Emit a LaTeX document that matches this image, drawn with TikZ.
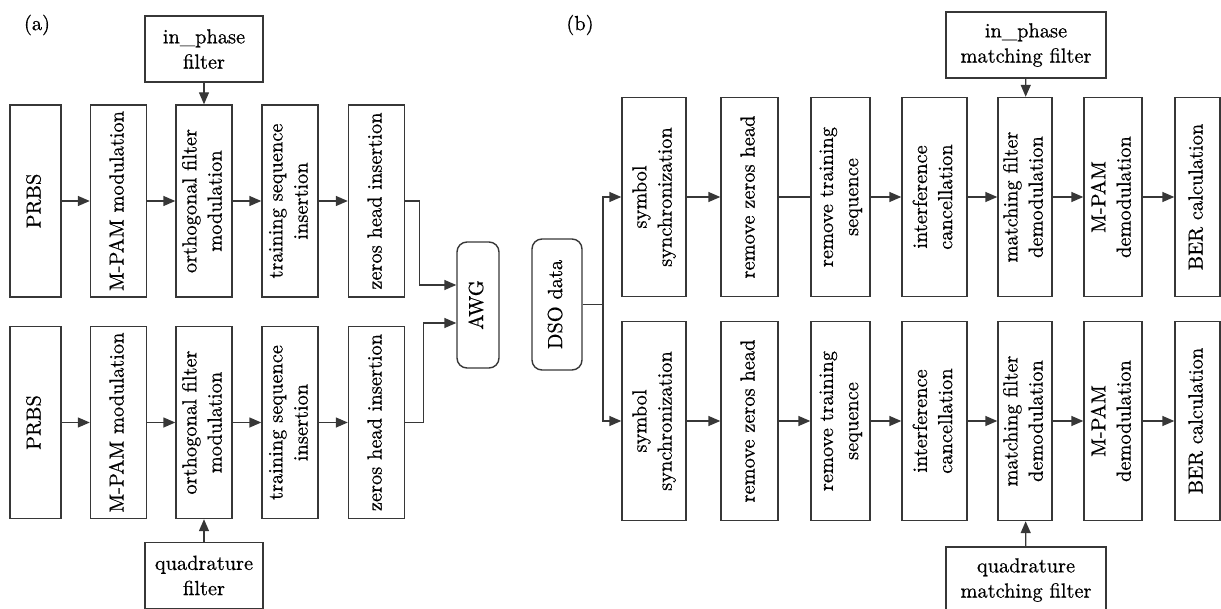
\documentclass[tikz,border=0pt]{standalone}
\usepackage{fontspec}
\setmainfont{Latin Modern Roman}[FakeBold=0.6]
\usetikzlibrary{arrows.meta,calc}
\definecolor{cline}{RGB}{55,55,55}
\newcommand{\vtext}[1]{\rotatebox{90}{\begin{tabular}{@{}c@{}}#1\end{tabular}}}

\begin{document}
\begin{tikzpicture}[
  x=0.5pt,y=-0.5pt,
  font=\fontsize{10.2}{12.6}\selectfont,
  >={Triangle[length=6pt,width=5pt]},
  blk/.style={draw=cline,line width=0.7pt,rectangle,inner sep=0pt,minimum width=28pt,minimum height=96pt},
  rblk/.style={blk,rounded corners=5pt},
  fblk/.style={draw=cline,line width=0.7pt,rectangle,inner sep=0pt,align=center,minimum height=33pt},
  arr/.style={cline,line width=0.7pt,->},
  wire/.style={cline,line width=0.7pt},
]
\useasboundingbox (0,0) rectangle (1221,609);
\clip (0,0) rectangle (1221,609);

% ============================ PANEL A: transmitter ============================
\foreach \r/\y in {1/201,2/422.5}{
  \node[blk,minimum width=25.5pt] (prbs\r) at (35.5,\y) {\vtext{PRBS}};
  \node[blk] (mpam\r) at (118.5,\y) {\vtext{M-PAM modulation}};
  \node[blk] (orth\r) at (204,\y) {\vtext{orthogonal filter\\modulation}};
  \node[blk] (train\r) at (290,\y) {\vtext{training sequence\\insertion}};
  \node[blk] (zh\r) at (376.5,\y) {\vtext{zeros head insertion}};
  \draw[arr] (prbs\r) -- (mpam\r);
  \draw[arr] (mpam\r) -- (orth\r);
  \draw[arr] (orth\r) -- (train\r);
  \draw[arr] (train\r) -- (zh\r);
}

% shaping filters
\node[fblk,minimum width=59pt] (ipf) at (204,49) {in\_phase\\filter};
\node[fblk,minimum width=59pt] (qf) at (204,575.5) {quadrature\\filter};
\draw[arr] (ipf) -- (orth1);
\draw[arr] (qf) -- (orth2);

% AWG
\node[rblk,minimum width=21pt,minimum height=63pt] (awg) at (478,305) {\vtext{AWG}};
\draw[arr] (zh1.east) -- ++(14,0) |- ($(awg.west)+(0,-20)$);
\draw[arr] (zh2.east) -- ++(18,0) |- ($(awg.west)+(0,18)$);

% ============================ PANEL B: receiver ============================
\node[rblk,minimum width=25pt,minimum height=65.5pt] (dso) at (557,304.5) {\vtext{DSO data}};
\coordinate (split) at (603,304.5);

\foreach \r/\y in {1/197,2/421}{
  \node[blk,minimum width=32pt,minimum height=99.5pt] (sync\r) at (654,\y) {\vtext{symbol\\synchronization}};
  \node[blk,minimum width=28.5pt,minimum height=99.5pt] (rzh\r) at (749.5,\y) {\vtext{remove zeros head}};
  \node[blk,minimum width=29.5pt,minimum height=99.5pt] (rts\r) at (840.5,\y) {\vtext{remove training\\sequence}};
  \node[blk,minimum width=32.5pt,minimum height=99.5pt] (ic\r) at (934.5,\y) {\vtext{interference\\cancellation}};
  \node[blk,minimum width=27pt,minimum height=99.5pt] (mfd\r) at (1025,\y) {\vtext{matching filter\\demodulation}};
  \node[blk,minimum width=29pt,minimum height=99.5pt] (mpd\r) at (1113,\y) {\vtext{M-PAM\\demodulation}};
  \node[blk,minimum width=22.5pt,minimum height=99.5pt] (ber\r) at (1197.5,\y) {\vtext{BER calculation}};
  \draw[arr] (split) |- (sync\r);
  \draw[arr] (sync\r) -- (rzh\r);
  \draw[arr] (rts\r) -- (ic\r);
  \draw[arr] (ic\r) -- (mfd\r);
  \draw[arr] (mfd\r) -- (mpd\r);
  \draw[arr] (mpd\r) -- (ber\r);
}
\draw[wire] (dso.east) -- (split);
\draw[wire] (rzh1) -- (rts1);
\draw[arr] (rzh2) -- (rts2);

% matching filters
\node[fblk,minimum width=80pt] (imf) at (1026,45) {in\_phase\\matching filter};
\node[fblk,minimum width=80pt] (qmf) at (1026,580) {quadrature\\matching filter};
\draw[arr] (imf) -- (mfd1);
\draw[arr] (qmf) -- (mfd2);

% panel labels
\node (lblA) at (37,25) {(a)};
\node (lblB) at (580,25) {(b)};

\end{tikzpicture}
\end{document}
